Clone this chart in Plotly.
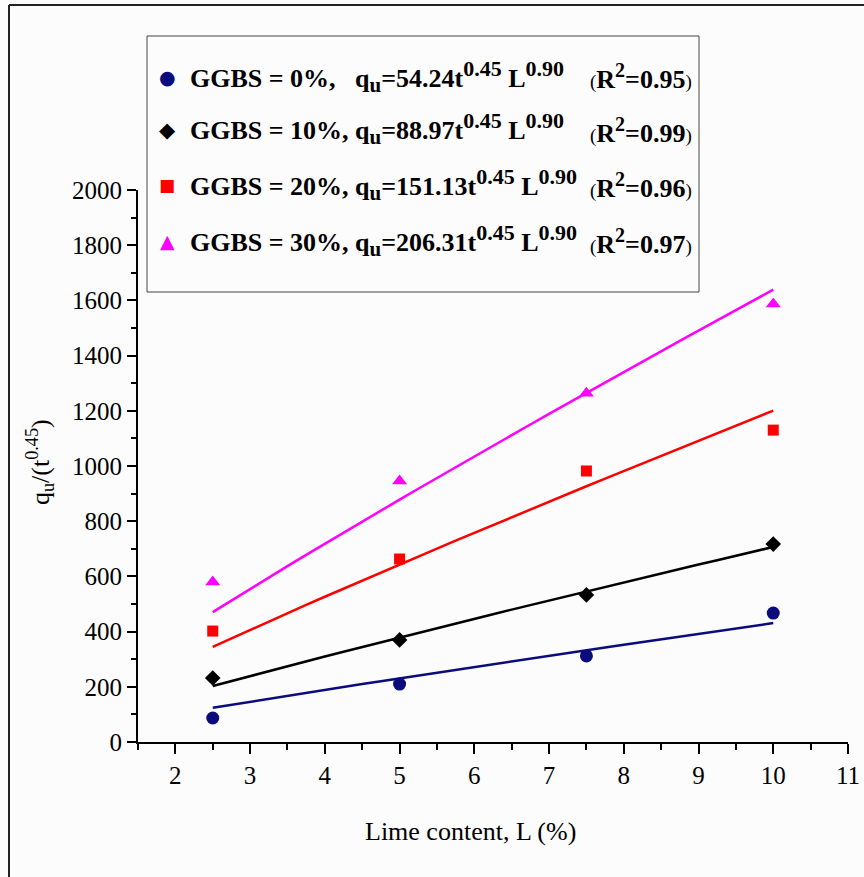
import numpy as np
import plotly.graph_objects as go

# Lime content (%) at which the specimens were tested
lime = [2.5, 5.0, 7.5, 10.0]

# Normalised strength q_u / t^0.45 for each GGBS replacement level
q_ggbs0 = [87, 210, 312, 467]
q_ggbs10 = [232, 370, 533, 717]
q_ggbs20 = [402, 663, 982, 1130]
q_ggbs30 = [580, 946, 1264, 1587]

# Fitted coefficients A in q_u = A t^0.45 L^0.90, and R^2 of each fit
fit_coef = [54.24, 88.97, 151.13, 206.31]
fit_r2 = ["0.95", "0.99", "0.96", "0.97"]
fit_exp_L = 0.90

labels = ["GGBS = 0%,", "GGBS = 10%,", "GGBS = 20%,", "GGBS = 30%,"]
colors = ["#0b0b7e", "#000000", "#ff0000", "#ff00ff"]
symbols = ["circle", "diamond", "square", "triangle-up"]
sizes = [13, 12, 11, 13]
glyphs = ["\u25CF", "\u25C6", "\u25A0", "\u25B2"]
glyph_sizes = [19, 21, 17, 19]

series = [q_ggbs0, q_ggbs10, q_ggbs20, q_ggbs30]

W, H = 864, 877
FONT = "Liberation Serif"
BG = "#fcfcfc"


def px(x):
    return x / W


def py(y):
    return 1 - y / H


def sup(t, size=22):
    return f"<sup><span style='font-size:{size}px'>{t}</span></sup>"


def sub(t, size=21):
    return f"<sub><span style='font-size:{size}px'>{t}</span></sub>"


fig = go.Figure()

L_fit = np.linspace(min(lime), max(lime), 31)
for A, col in zip(fit_coef, colors):
    fig.add_trace(go.Scatter(
        x=L_fit, y=A * L_fit ** fit_exp_L, mode="lines",
        line=dict(color=col, width=2.5), showlegend=False, hoverinfo="skip"))

for vals, col, sym, sz in zip(series, colors, symbols, sizes):
    fig.add_trace(go.Scatter(
        x=lime, y=vals, mode="markers",
        marker=dict(color=col, symbol=sym, size=sz, line=dict(width=0)),
        showlegend=False))

axis_common = dict(
    showline=True, linecolor="black", linewidth=2,
    ticks="outside", tickcolor="black", tickwidth=2,
    showgrid=False, zeroline=False, automargin=False,
    tickfont=dict(family=FONT, size=25, color="black"),
)

fig.update_xaxes(
    **axis_common, range=[1.5, 11], tick0=2, dtick=1, ticklen=10,
    domain=[px(138), px(848)],
    minor=dict(ticks="outside", tick0=1.5, dtick=0.5, ticklen=6,
               tickcolor="black", tickwidth=2, showgrid=False),
)
fig.update_yaxes(
    **axis_common, range=[0, 2000], tick0=0, dtick=200, ticklen=9,
    domain=[py(742), py(190)],
    minor=dict(ticks="outside", dtick=100, ticklen=5,
               tickcolor="black", tickwidth=2, showgrid=False),
)

annotations = [
    dict(text="Lime content, L (%)", x=px(471), y=py(831),
         font=dict(family=FONT, size=26, color="black")),
    dict(text="q<sub>u</sub>/(t<sup>0.45</sup>)", x=px(40), y=py(462),
         textangle=-90, font=dict(family=FONT, size=26, color="black")),
]

# Custom key with the fitted equations
row_y = [76, 129, 184, 240]
gaps = ["&nbsp;&nbsp;&nbsp;", "&nbsp;", "&nbsp;", "&nbsp;"]
for i in range(4):
    annotations.append(dict(
        text=glyphs[i], x=px(167), y=py(row_y[i] + 1),
        font=dict(family="DejaVu Sans", size=glyph_sizes[i], color=colors[i])))
    annotations.append(dict(
        text=(f"<b>{labels[i]}{gaps[i]}q{sub('u')}={fit_coef[i]:.2f}"
              f"t{sup('0.45')} L{sup(f'{fit_exp_L:.2f}')}</b>"),
        x=px(188), y=py(row_y[i]), xanchor="left",
        font=dict(family=FONT, size=26, color="black")))
    annotations.append(dict(
        text=(f"<span style='font-size:19px'>(</span><b>R{sup('2', 20)}"
              f"={fit_r2[i]}</b><span style='font-size:19px'>)</span>"),
        x=px(694), y=py(row_y[i] + 1), xanchor="right",
        font=dict(family=FONT, size=26, color="black")))

for a in annotations:
    a.setdefault("xref", "paper")
    a.setdefault("yref", "paper")
    a.setdefault("showarrow", False)
    a.setdefault("xanchor", "center")
    a.setdefault("yanchor", "middle")

shapes = [
    # key box
    dict(type="rect", xref="paper", yref="paper",
         x0=px(147), x1=px(699), y0=py(292), y1=py(36),
         line=dict(color="#444444", width=1), fillcolor=BG, layer="below"),
    # outer frame (left and top edges)
    dict(type="line", xref="paper", yref="paper",
         x0=px(9), x1=px(9), y0=0, y1=py(5),
         line=dict(color="#222222", width=2)),
    dict(type="line", xref="paper", yref="paper",
         x0=px(9), x1=1, y0=py(5), y1=py(5),
         line=dict(color="#222222", width=2)),
]

fig.update_layout(
    width=W, height=H,
    margin=dict(l=0, r=0, t=0, b=0, autoexpand=False),
    paper_bgcolor=BG, plot_bgcolor=BG,
    annotations=annotations, shapes=shapes,
    showlegend=False,
)

fig.write_html("out.html")
